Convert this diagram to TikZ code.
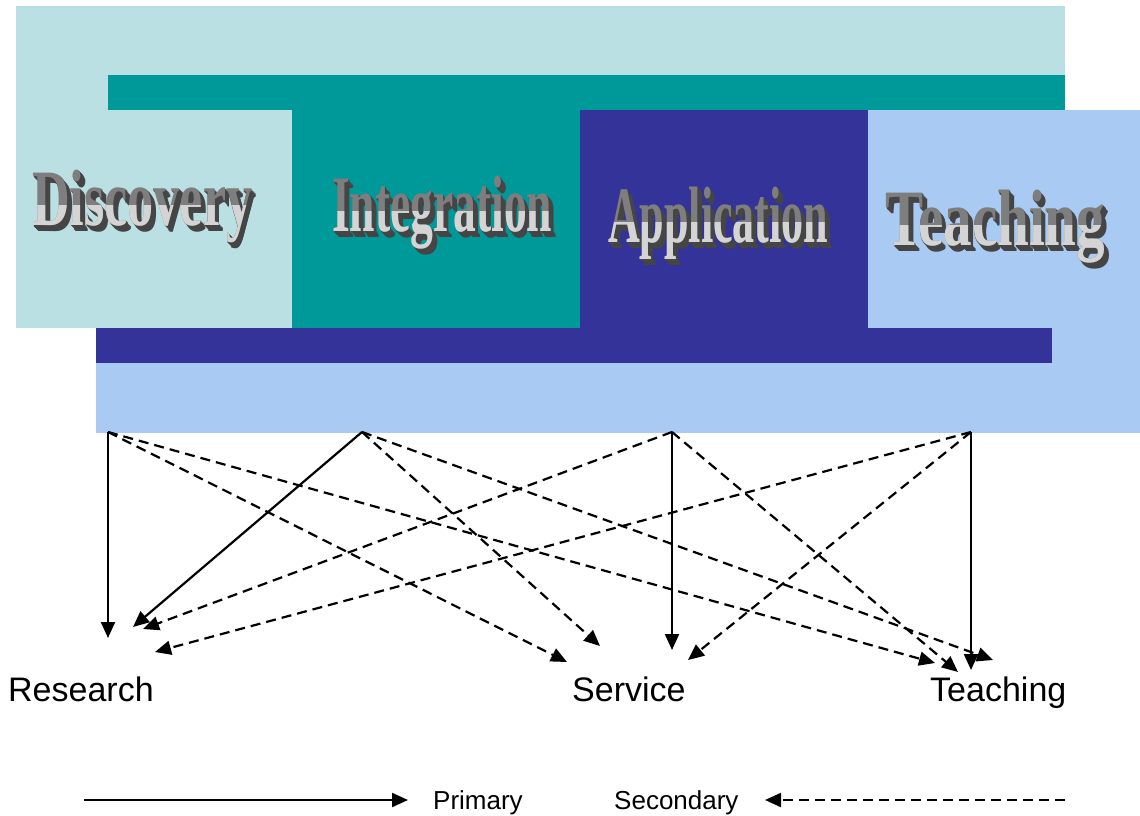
\documentclass[tikz,border=0pt]{standalone}
\usepackage{fontspec}
\setmainfont{Liberation Sans}
\newfontfamily\waserif{Liberation Serif}
\usepackage{tikz}
\usetikzlibrary{arrows.meta}
\usetikzlibrary{calc}
\definecolor{paleteal}{HTML}{BBE0E3}
\definecolor{teal}{HTML}{009999}
\definecolor{navy}{HTML}{333399}
\definecolor{skyblue}{HTML}{A9CBF3}
\definecolor{wadark}{HTML}{454545}
\definecolor{waface}{HTML}{7E7E7E}
\definecolor{walight}{HTML}{D4D4D4}
\tikzset{prim/.style={line width=2.2pt,-{Triangle[length=16pt,width=14pt]}}}
\tikzset{sec/.style={prim,dash pattern=on 10pt off 6pt}}
\tikzset{lab/.style={font=\fontsize{34}{34}\selectfont,inner sep=0pt,anchor=base west}}
\tikzset{leg/.style={font=\fontsize{26}{26}\selectfont,inner sep=0pt,anchor=base west}}
\tikzset{wa/.style={font=\waserif\bfseries\fontsize{80}{80}\selectfont,inner sep=0pt,anchor=base west}}
\newcommand{\wafit}[1]{\resizebox{220pt}{\height}{#1}}
\newcommand{\wordart}[4]{%
  \foreach \d in {6,5,...,1}
    \node[wa,text=wadark] at ($(#2,#3)+(0.8*\d,\d)$) {\wafit{#4}};
  \node[wa,text=waface] (#1) at (#2,#3) {\wafit{#4}};
  \begin{scope}
    \clip (#2-10,#3-20) rectangle (#2+240,#3+40);
    \node[wa,text=walight] at (#2,#3) {\wafit{#4}};
  \end{scope}}

\begin{document}
\begin{tikzpicture}[x=1pt,y=-1pt]
          \useasboundingbox (0,0) rectangle (1140,816);
          % coloured bands
          \fill[paleteal] (16,6) rectangle (1065,328);
          \fill[teal] (108,75) rectangle (1065,110);
          \fill[teal] (292,110) rectangle (580,328);
          \fill[navy] (580,110) rectangle (868,328);
          \fill[skyblue] (868,110) rectangle (1140,433);
          \fill[skyblue] (96,363) rectangle (1140,433);
          \fill[navy] (96,328) rectangle (1052,363);
          \wordart{discovery}{32}{225}{Discovery}
          \wordart{integration}{332}{231}{Integration}
          \wordart{application}{608}{242}{Application}
          \wordart{teachingwa}{885}{245}{Teaching}
          % sources and targets
          \coordinate (dis) at (108,432);
          \coordinate (int) at (362,432);
          \coordinate (app) at (672,432);
          \coordinate (tea) at (971,432);
          \coordinate (r1) at (108,638);
          \coordinate (r2) at (133,627);
          \coordinate (r3) at (143,629);
          \coordinate (r4) at (155,652);
          \coordinate (s1) at (567,662);
          \coordinate (s2) at (600,646);
          \coordinate (s3) at (672,650);
          \coordinate (s4) at (688,660);
          \coordinate (t1) at (935,663);
          \coordinate (t2) at (958,672);
          \coordinate (t3) at (971,670);
          \coordinate (t4) at (993,660);
          \draw[prim] (dis) -- (r1);
          \draw[prim] (int) -- (r2);
          \draw[prim] (app) -- (s3);
          \draw[prim] (tea) -- (t3);
          \draw[sec] (dis) -- (s1);
          \draw[sec] (dis) -- (t1);
          \draw[sec] (int) -- (s2);
          \draw[sec] (int) -- (t4);
          \draw[sec] (app) -- (r3);
          \draw[sec] (app) -- (t2);
          \draw[sec] (tea) -- (r4);
          \draw[sec] (tea) -- (s4);
          \node[lab] (research) at (8,701) {Research};
          \node[lab] (service) at (572,701) {Service};
          \node[lab] (teaching) at (930,701) {Teaching};
          % legend
          \coordinate (pa) at (84,800);
          \coordinate (pb) at (408,800);
          \coordinate (sa) at (1065,800);
          \coordinate (sb) at (765,800);
          \draw[prim] (pa) -- (pb);
          \draw[sec] (sa) -- (sb);
          \node[leg] (primary) at (433,809) {Primary};
          \node[leg] (secondary) at (614,809) {Secondary};
        \end{tikzpicture}
\end{document}
